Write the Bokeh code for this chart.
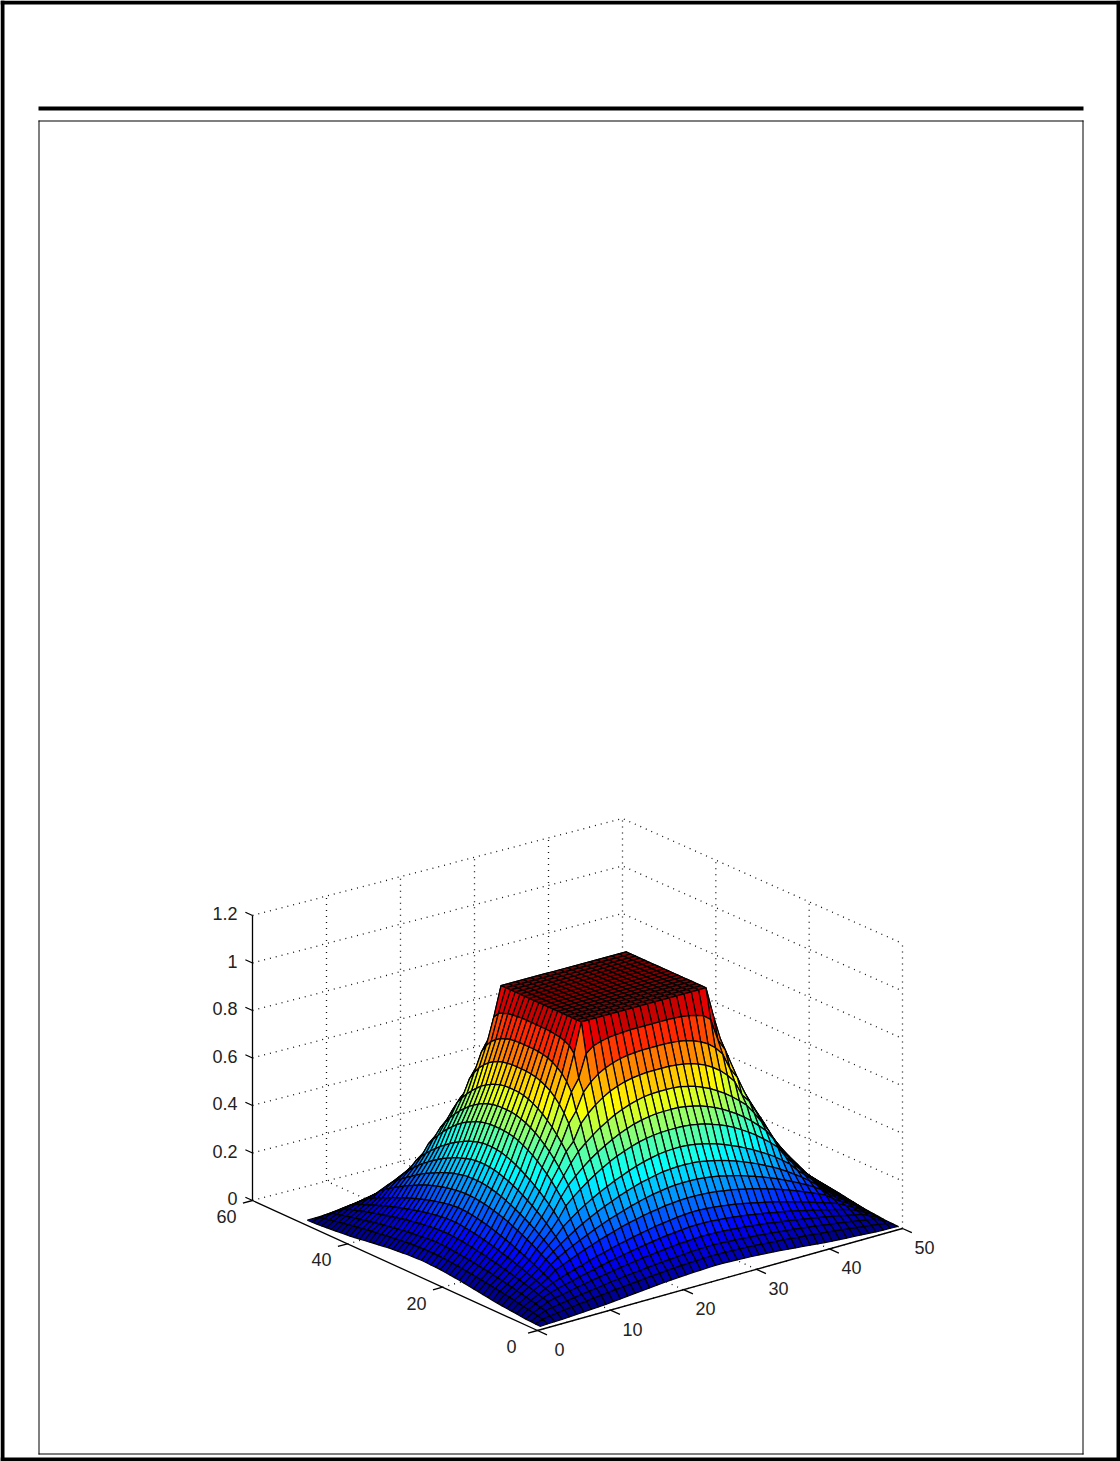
import numpy as np
from bokeh.core.properties import value
from bokeh.embed import file_html
from bokeh.models import ColumnDataSource, Range1d
from bokeh.plotting import figure
from bokeh.resources import INLINE

# Surface heights: one row per grid index i (1..16), for j = i..25.
# The surface is symmetric, so only this one octant is listed; rows 17..25 are the plateau.
row_01 = [0, .001, .002, .003, .005, .007, .009, .011, .013, .015, .018, .021, .024, .027, .03, .033, .036, .039, .041, .043, .045, .047, .048, .049, .05]
row_02 = [.012, .017, .021, .025, .029, .033, .037, .041, .044, .048, .051, .054, .057, .06, .063, .066, .068, .071, .073, .075, .077, .078, .079, .08]
row_03 = [.03, .035, .041, .046, .051, .056, .06, .065, .069, .074, .077, .082, .085, .088, .092, .095, .098, .10, .103, .105, .107, .109, .11]
row_04 = [.05, .057, .063, .07, .076, .082, .088, .093, .099, .104, .109, .114, .118, .123, .127, .13, .134, .137, .14, .142, .144, .145]
row_05 = [.07, .079, .087, .095, .103, .11, .118, .125, .132, .138, .144, .15, .156, .161, .166, .171, .175, .178, .181, .184, .185]
row_06 = [.095, .106, .116, .126, .135, .145, .154, .162, .171, .179, .186, .193, .2, .206, .212, .217, .221, .225, .228, .23]
row_07 = [.13, .144, .157, .17, .182, .194, .205, .215, .225, .234, .243, .25, .257, .263, .268, .273, .276, .279, .28]
row_08 = [.165, .182, .198, .213, .227, .241, .254, .266, .277, .287, .297, .306, .314, .321, .326, .331, .334, .335]
row_09 = [.205, .226, .246, .265, .282, .297, .312, .325, .338, .35, .36, .37, .377, .384, .39, .393, .395]
row_10 = [.26, .284, .307, .327, .345, .363, .378, .393, .406, .419, .43, .44, .447, .454, .458, .46]
row_11 = [.33, .358, .383, .407, .428, .447, .465, .48, .493, .504, .514, .521, .526, .529, .53]
row_12 = [.40, .43, .458, .483, .505, .524, .542, .557, .57, .581, .589, .595, .599, .60]
row_13 = [.475, .515, .543, .568, .591, .61, .628, .642, .654, .663, .67, .674, .675]
row_14 = [.55, .615, .65, .678, .70, .718, .731, .741, .748, .752, .755, .755]
row_15 = [.66, .73, .765, .79, .807, .82, .829, .835, .838, .84, .84]
row_16 = [.78, .875, .90, .91, .917, .921, .923, .925, .925, .925]
plateau = 1.0
rows = [row_01, row_02, row_03, row_04, row_05, row_06, row_07, row_08,
        row_09, row_10, row_11, row_12, row_13, row_14, row_15, row_16]

x_ticks = [0, 10, 20, 30, 40, 50]
y_ticks = [0, 20, 40, 60]
z_ticks = [0, 0.2, 0.4, 0.6, 0.8, 1, 1.2]
x_labels = ["0", "10", "20", "30", "40", "50"]
y_labels = ["0", "20", "40", "60"]
z_labels = ["0", "0.2", "0.4", "0.6", "0.8", "1", "1.2"]

X_MAX, Y_MAX, Z_MAX = 50, 60, 1.2


def project(x, y, z):
    """Axonometric view of the box onto the page."""
    s, t = np.asarray(x, float) / X_MAX, np.asarray(y, float) / Y_MAX
    px = 537 * (1 - s) * (1 - t) + 902 * s * (1 - t) + 252 * (1 - s) * t + 622 * s * t
    py = 1330 * (1 - s) * (1 - t) + 1228 * s * (1 - t) + 1200 * (1 - s) * t + 1103 * s * t
    return px, py - 237.5 * np.asarray(z, float)


def jet(v):
    k = (np.floor(np.clip(v, 0, 1) * 64).clip(0, 63) + 0.5) / 64
    xs = [0, .125, .375, .625, .875, 1]
    r = np.interp(k, xs, [0, 0, 0, 1, 1, .5])
    g = np.interp(k, xs, [0, 0, 1, 1, 0, 0])
    b = np.interp(k, xs, [.5, 1, 1, 0, 0, 0])
    return "#%02x%02x%02x" % (int(r * 255), int(g * 255), int(b * 255))


def height(a, b):
    i, j = sorted((min(a, 51 - a), min(b, 51 - b)))
    return plateau if i > len(rows) else rows[i - 1][j - i]


grid = list(range(1, 51))
Z = np.array([[height(a, b) for b in grid] for a in grid])

p = figure(width=1120, height=1461, output_backend="svg", toolbar_location=None,
           x_range=Range1d(0, 1120), y_range=Range1d(1461, 0),
           x_axis_type=None, y_axis_type=None, min_border=0,
           outline_line_color=None, background_fill_color="white",
           styles={"position": "absolute", "left": "0px", "top": "0px"})
p.grid.visible = False

# page furniture: outer border, rule, inner frame
p.quad(left=[0, 0, 0, 1116, 38, 38, 38, 38, 1082], right=[1120, 1120, 4, 1120, 1083, 1083, 1083, 39, 1083],
       top=[0, 1457, 0, 0, 106, 120, 1453, 120, 120], bottom=[4, 1461, 1461, 1461, 110, 121, 1454, 1454, 1454],
       fill_color="black", line_color=None)

# dotted box grid
dot = dict(line_color="#111111", line_width=1.3, line_dash="1 5")
gx, gy = [], []
for z in z_ticks[1:] + [0]:
    a = project([0, X_MAX, X_MAX], [Y_MAX, Y_MAX, 0], [z, z, z])
    gx.append(list(a[0])); gy.append(list(a[1]))
for x in x_ticks[1:]:
    a = project([x, x], [Y_MAX, Y_MAX], [0, Z_MAX])
    gx.append(list(a[0])); gy.append(list(a[1]))
    a = project([x, x], [0, Y_MAX], [0, 0])
    gx.append(list(a[0])); gy.append(list(a[1]))
for y in y_ticks[:-1]:
    a = project([X_MAX, X_MAX], [y, y], [0, Z_MAX])
    gx.append(list(a[0])); gy.append(list(a[1]))
    a = project([0, X_MAX], [y, y], [0, 0])
    gx.append(list(a[0])); gy.append(list(a[1]))
p.multi_line(gx, gy, **dot)

# axes and ticks
ax, ay = [], []
for seg in ([[0, X_MAX], [0, 0], [0, 0]], [[0, 0], [0, Y_MAX], [0, 0]], [[0, 0], [Y_MAX, Y_MAX], [0, Z_MAX]]):
    a = project(*seg)
    ax.append(list(a[0])); ay.append(list(a[1]))
for x in x_ticks:
    a = project([x, x], [0, -2], [0, 0])
    ax.append(list(a[0])); ay.append(list(a[1]))
for y in y_ticks:
    a = project([0, -1.3], [y, y], [0, 0])
    ax.append(list(a[0])); ay.append(list(a[1]))
for z in z_ticks:
    a = project([0, 0], [Y_MAX, Y_MAX + 1.5], [z, z])
    ax.append(list(a[0])); ay.append(list(a[1]))
p.multi_line(ax, ay, line_color="black", line_width=1.3)

# surface: far cells first
xs, ys, cs = [], [], []
for a in range(48, -1, -1):
    for b in range(48, -1, -1):
        ia, ib = [a, a + 1, a + 1, a], [b, b, b + 1, b + 1]
        qx, qy = project([grid[k] for k in ia], [grid[k] for k in ib], Z[ia, ib])
        xs.append(qx.tolist()); ys.append(qy.tolist()); cs.append(jet(Z[a, b]))
src = ColumnDataSource(dict(xs=xs, ys=ys, c=cs))
p.patches("xs", "ys", fill_color="c", line_color="black", line_width=1.25, source=src)

# tick labels
font = dict(text_font=value("Liberation Sans"), text_font_size="18px", text_color="#222222")
px, py = project(x_ticks, [0] * len(x_ticks), [0] * len(x_ticks))
p.text(px, py, text=x_labels, x_offset=22, y_offset=19, text_align="center", text_baseline="middle", **font)
px, py = project([0] * len(y_ticks), y_ticks, [0] * len(y_ticks))
p.text(px, py, text=y_labels, x_offset=-26, y_offset=16, text_align="center", text_baseline="middle", **font)
px, py = project([0] * len(z_ticks), [Y_MAX] * len(z_ticks), z_ticks)
p.text(px, py, text=z_labels, x_offset=-15, y_offset=-2, text_align="right", text_baseline="middle", **font)

open("out.html", "w").write(file_html(p, INLINE))
